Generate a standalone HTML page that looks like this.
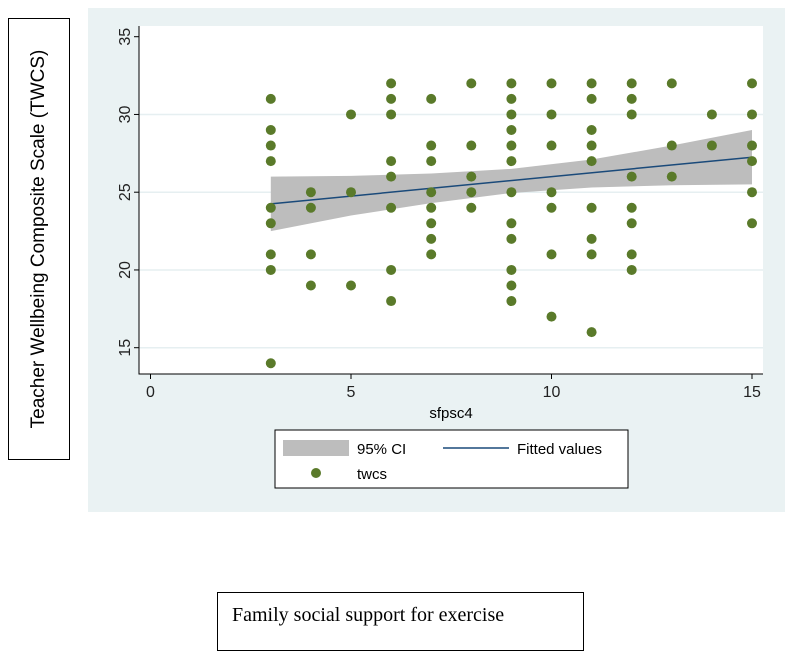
<!DOCTYPE html>
<html><head><meta charset="utf-8"><style>
body{margin:0;width:790px;height:662px;background:#fff;position:relative;font-family:"Liberation Sans",sans-serif;overflow:hidden}
.box{position:absolute;border:1px solid #000;background:#fff}
</style></head><body>
<svg width="790" height="662" style="position:absolute;left:0;top:0">
<rect x="88" y="8" width="697" height="504" fill="#eaf2f3"/>
<rect x="139" y="26" width="624" height="348" fill="#fff"/>
<g id="grid"></g><g id="ci"></g><g id="fit"></g><g id="pts"></g><g id="axes"></g>
<g>
<rect x="275" y="430" width="353" height="58" fill="#fff" stroke="#000" stroke-width="1"/>
<rect x="283" y="440" width="66" height="16" fill="#bdbdbd"/>
<text x="357" y="454" font-size="15">95% CI</text>
<line x1="443" y1="448" x2="509" y2="448" stroke="#1a4a7a" stroke-width="1.5"/>
<text x="517" y="454" font-size="15">Fitted values</text>
<circle cx="316" cy="473" r="5" fill="#5a7a2a"/>
<text x="357" y="479" font-size="15">twcs</text>
</g>
<text x="451" y="418" font-size="15" text-anchor="middle">sfpsc4</text>
</svg>
<div class="box" style="left:8px;top:18px;width:60px;height:440px">
<div style="position:absolute;left:30px;top:220px;transform:translate(-50%,-50%) rotate(-90deg);white-space:nowrap;font-size:19px;font-family:'Liberation Sans',sans-serif">Teacher Wellbeing Composite Scale (TWCS)</div></div>
<div class="box" style="left:217px;top:592px;width:367px;height:59px;font-family:'Liberation Serif',serif;font-size:20px;line-height:44px;padding-left:14px;box-sizing:border-box">Family social support for exercise</div>
<script>
const xs=[3,3,3,3,3,3,3,3,3,4,4,4,4,5,5,5,6,6,6,6,6,6,6,6,7,7,7,7,7,7,7,7,8,8,8,8,8,9,9,9,9,9,9,9,9,9,9,9,9,10,10,10,10,10,10,10,11,11,11,11,11,11,11,11,11,12,12,12,12,12,12,12,12,13,13,13,14,14,15,15,15,15,15,15];
const ys=[31,29,28,27,24,23,21,20,14,25,24,21,19,30,25,19,32,31,30,27,26,24,20,18,31,28,27,25,24,23,22,21,32,28,26,25,24,32,31,30,29,28,27,25,23,22,20,19,18,32,30,28,25,24,21,17,32,31,29,28,27,24,22,21,16,32,31,30,26,24,23,21,20,32,28,26,30,28,32,30,28,27,25,23];
const ciX=[3,5,7,9,11,13,15];
const ciUpper=[26,26.05,26.2,26.5,27.1,28,29];
const ciLower=[22.5,23.5,24.3,24.95,25.3,25.45,25.5];
const fitX=[3,15];
const fitY=[24.25,27.25];
const xTicks=[0,5,10,15];
const yTicks=[15,20,25,30,35];
const X=v=>150.5+v*(752-150.5)/15;
const Y=v=>347.7-(v-15)*(347.7-36.7)/20;
const NS='http://www.w3.org/2000/svg';
function mk(t,a,p){const e=document.createElementNS(NS,t);for(const k in a)e.setAttribute(k,a[k]);document.getElementById(p).appendChild(e);return e;}
yTicks.forEach(v=>{if(v<35){const g=mk('line',{x1:139,x2:763,y1:Y(v),y2:Y(v),stroke:'#e6eff1','stroke-width':1.5},'grid');

}});
let d='M'+ciX.map((x,i)=>X(x)+','+Y(ciUpper[i])).join('L');
for(let i=ciX.length-1;i>=0;i--)d+='L'+X(ciX[i])+','+Y(ciLower[i]);
const band=mk('path',{d:d+'Z',fill:'#bdbdbd'},'ci');


const fl=mk('line',{x1:X(fitX[0]),y1:Y(fitY[0]),x2:X(fitX[1]),y2:Y(fitY[1]),stroke:'#1a4a7a','stroke-width':1.5},'fit');


xs.forEach((x,i)=>{const c=mk('circle',{cx:X(x),cy:Y(ys[i]),r:5,fill:'#5a7a2a'},'pts');

});
const ax=mk('path',{d:'M139,26V374H763',fill:'none',stroke:'#000','stroke-width':1},'axes');


xTicks.forEach(v=>{mk('line',{x1:X(v),x2:X(v),y1:374,y2:379,stroke:'#000'},'axes');
const t=mk('text',{x:X(v),y:397,'font-size':16,'text-anchor':'middle',fill:'#222'},'axes');t.textContent=v;

});
yTicks.forEach(v=>{mk('line',{x1:134,x2:139,y1:Y(v),y2:Y(v),stroke:'#000'},'axes');
const t=mk('text',{x:0,y:0,'font-size':16,'text-anchor':'middle',fill:'#222',transform:`translate(130,${Y(v)}) rotate(-90)`},'axes');t.textContent=v;

});
</script>
</body></html>
